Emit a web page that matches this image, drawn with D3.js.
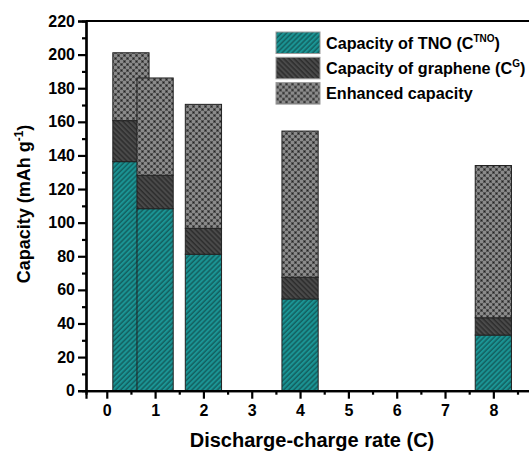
<!doctype html>
<html lang='en'>
  <head>
    <meta charset="utf-8">
    <script src="https://d3js.org/d3.v7.min.js"></script>
    <title>Capacity vs rate</title>
  <style>
  body{
    margin: 0;
    background: white;
  }
  text {
    font-family: "Liberation Sans", Arial, sans-serif;
    font-weight: bold;
  }
  </style>
  </head>
    <body>
      <div id='chart'></div>
      <script>
      // values (mAh g-1)
      const rates = [0.5, 1, 2, 4, 8];
      const tnoCap = [136.3, 108.3, 81.2, 54.6, 33.1];
      const grapheneCap = [24.4, 19.9, 15.4, 12.9, 10.3];
      const enhancedCap = [40.4, 57.9, 73.8, 87.0, 90.6];
      const xTicks = [0, 1, 2, 3, 4, 5, 6, 7, 8];
      const yTicks = [0, 20, 40, 60, 80, 100, 120, 140, 160, 180, 200, 220];
      const seriesNames = ['tno', 'graphene', 'enhanced'];

      const wsvg = 529;
      const hsvg = 451;

      const xScale = d3.scaleLinear()
                      .domain([-0.43, 8.8])
                      .range([86, 532]);

      const yScale = d3.scaleLinear()
                      .domain([0, 220])
                      .range([390.7, 21]);

      const svg = d3.select('#chart')
                    .append('svg')
                    .attr('width', wsvg)
                    .attr('height', hsvg);

      const defs = svg.append('defs');

      // diagonal hatch patterns
      function hatch(id, bg, fg, angle) {
        const p = defs.append('pattern')
          .attr('id', id)
          .attr('patternUnits', 'userSpaceOnUse')
          .attr('width', 3.6)
          .attr('height', 3.6)
          .attr('patternTransform', 'rotate(' + angle + ')');
        p.append('rect').attr('width', 3.6).attr('height', 3.6).attr('fill', bg);
        p.append('line')
          .attr('x1', 1).attr('x2', 1).attr('y1', 0).attr('y2', 3.6)
          .attr('stroke', fg).attr('stroke-width', 1);
      }
      hatch('tno', '#1b9494', '#0e4545', 45);
      hatch('graphene', '#4a4a4a', '#1e1e1e', -45);

      const chk = defs.append('pattern')
        .attr('id', 'enhanced')
        .attr('patternUnits', 'userSpaceOnUse')
        .attr('width', 6)
        .attr('height', 6);
      chk.append('rect').attr('width', 6).attr('height', 6).attr('fill', '#555');
      chk.append('rect').attr('x', 0).attr('y', 0).attr('width', 3).attr('height', 3).attr('fill', '#8a8a8a');
      chk.append('rect').attr('x', 3).attr('y', 3).attr('width', 3).attr('height', 3).attr('fill', '#8a8a8a');
      chk.append('rect').attr('x', 1).attr('y', 4).attr('width', 1).attr('height', 1).attr('fill', '#222');
      chk.append('rect').attr('x', 4).attr('y', 1).attr('width', 1).attr('height', 1).attr('fill', '#222');

      // stack the three parts of each bar
      const rows = rates.map((r, i) => ({
        rate: r,
        tno: tnoCap[i],
        graphene: grapheneCap[i],
        enhanced: enhancedCap[i]
      }));
      const stacked = d3.stack().keys(seriesNames)(rows);

      const barW = xScale(0.75) - xScale(0);

      const bars = svg.selectAll('g.bar')
        .data(rows)
        .enter()
        .append('g')
        .attr('class', 'bar');

      bars.each(function(d, i) {
        const g = d3.select(this);
        stacked.forEach(s => {
          const seg = s[i];
          g.append('rect')
            .attr('x', xScale(d.rate) - barW / 2)
            .attr('y', yScale(seg[1]))
            .attr('width', barW)
            .attr('height', yScale(seg[0]) - yScale(seg[1]))
            .attr('fill', 'url(#' + s.key + ')')
            .attr('stroke', '#222')
            .attr('stroke-width', 1);
        });
      });

      // axes
      const yAxis = d3.axisLeft(yScale).tickValues(yTicks).tickSize(8).tickPadding(3);
      const yMinor = d3.axisLeft(yScale).tickValues(d3.range(10, 220, 20)).tickSize(4).tickFormat('');
      const xAxis = d3.axisBottom(xScale).tickValues(xTicks).tickSize(8).tickPadding(6).tickFormat(d3.format('d'));
      const xMinor = d3.axisBottom(xScale).tickValues(d3.range(-0.5, 9, 1).filter(v => v > -0.43)).tickSize(4).tickFormat('');

      function styleAxis(g) {
        g.select('.domain').attr('stroke', '#000').attr('stroke-width', 2.2);
        g.selectAll('.tick line').attr('stroke', '#000').attr('stroke-width', 2.2);
        g.selectAll('.tick text')
          .attr('fill', '#000')
          .style('font-size', '16px')
          .style('font-family', '"Liberation Sans", Arial, sans-serif')
          .style('font-weight', 'bold');
      }

      svg.append('g').attr('transform', 'translate(' + xScale.range()[0] + ',0)').call(yMinor).call(styleAxis);
      svg.append('g').attr('transform', 'translate(' + xScale.range()[0] + ',0)').call(yAxis).call(styleAxis);
      svg.append('g').attr('transform', 'translate(0,' + yScale(0) + ')').call(xMinor).call(styleAxis);
      svg.append('g').attr('transform', 'translate(0,' + yScale(0) + ')').call(xAxis).call(styleAxis);

      // top frame line
      svg.append('line')
        .attr('x1', xScale.range()[0]).attr('x2', xScale.range()[1])
        .attr('y1', yScale(220)).attr('y2', yScale(220))
        .attr('stroke', '#000').attr('stroke-width', 2.2);

      // axis titles
      svg.append('text')
        .attr('x', 312)
        .attr('y', 447)
        .attr('text-anchor', 'middle')
        .style('font-size', '20px')
        .text('Discharge-charge rate (C)');

      const yt = svg.append('text')
        .attr('transform', 'translate(30,204) rotate(-90)')
        .attr('text-anchor', 'middle')
        .style('font-size', '18px');
      yt.append('tspan').text('Capacity (mAh g');
      yt.append('tspan').attr('dy', -7).style('font-size', '12px').text('-1');
      yt.append('tspan').attr('dy', 7).text(')');

      // legend
      const legendItems = [
        {key: 'tno', label: 'Capacity of TNO (C', sup: 'TNO', tail: ')'},
        {key: 'graphene', label: 'Capacity of graphene (C', sup: 'G', tail: ')'},
        {key: 'enhanced', label: 'Enhanced capacity', sup: '', tail: ''}
      ];

      const legend = svg.append('g').attr('transform', 'translate(276,32)');
      legendItems.forEach((it, i) => {
        const row = legend.append('g').attr('transform', 'translate(0,' + (i * 25.3) + ')');
        row.append('rect')
          .attr('width', 44).attr('height', 21.5)
          .attr('fill', 'url(#' + it.key + ')')
          .attr('stroke', '#9a9a9a').attr('stroke-width', 1);
        const t = row.append('text')
          .attr('x', 50).attr('y', 16.8)
          .style('font-size', '16.2px');
        t.append('tspan').text(it.label);
        if (it.sup) {
          t.append('tspan').attr('dy', -7).style('font-size', '10px').text(it.sup);
          t.append('tspan').attr('dy', 7).text(it.tail);
        }
      });
      </script>
  </body>
</html>
